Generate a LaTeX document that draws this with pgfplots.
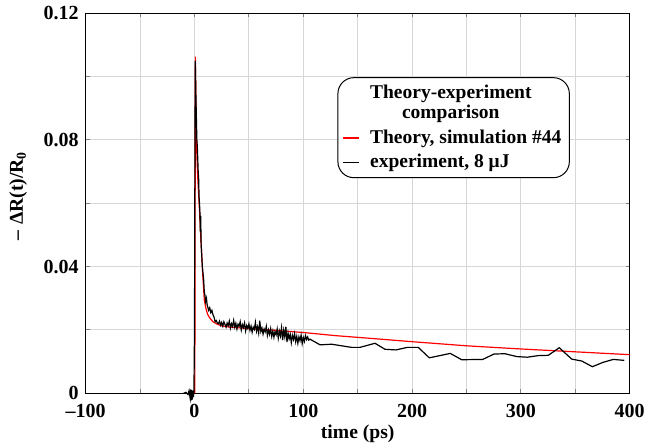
\documentclass[border=0pt]{standalone}
\usepackage{fontspec}
\setmainfont{Liberation Serif}
\usepackage{pgfplots}
\pgfplotsset{compat=1.18}
\definecolor{gridgray}{RGB}{215,215,215}

\begin{document}
\begin{tikzpicture}
\begin{axis}[
  scale only axis,
  width=272pt, height=190pt,
  xmin=-100, xmax=400,
  ymin=0, ymax=0.12,
  clip=false,
  xtick={-100,0,100,200,300,400},
  xticklabels={\textendash100,0,100,200,300,400},
  minor xtick={-50,50,150,250,350},
  ytick={0,0.04,0.08,0.12},
  yticklabels={0,0.04,0.08,0.12},
  minor ytick={0.02,0.06,0.1},
  grid=both,
  major grid style={gridgray, line width=0.5pt},
  minor grid style={gridgray, line width=0.5pt},
  tick style={gray, line width=0.5pt},
  major tick length=2pt, minor tick length=2pt,
  tick align=inside,
  axis line style={black, line width=0.8pt},
  ticklabel style={font=\fontsize{10}{12}\selectfont\bfseries},
  xticklabel style={yshift=-2pt},
  xlabel={time (ps)},
  ylabel={\textendash\;ΔR(t)/R\textsubscript{0}},
  label style={font=\fontsize{9.8}{11}\selectfont\bfseries},
  xlabel style={at={(axis description cs:0.5,0)}, anchor=center, yshift=-20pt},
  ylabel style={at={(axis description cs:-0.124,0.52)}, anchor=center},
  legend style={at={(0.89,0.832)}, anchor=north east, draw=black,
    rounded corners=8pt, line width=0.5pt,
    font=\fontsize{9.75}{10}\selectfont\bfseries,
    inner xsep=2pt, inner ysep=1.5pt, row sep=0pt,
    /tikz/every odd column/.append style={column sep=3.5pt}},
  legend cell align=left,
  legend image code/.code={\draw[#1, line width=0.6pt] (0pt,0pt) -- (8pt,0pt);},
]

\addlegendimage{empty legend}
\addlegendentry{\begin{tabular}[b]{@{}c@{}}Theory-experiment\\comparison\end{tabular}}

\addplot[red, line width=0.6pt] coordinates {
  (0.3,0) (0.8,0.1063) (1.7,0.080) (3,0.068) (4.4,0.059) (6,0.048)
  (7.5,0.038) (9,0.0295) (10.5,0.0268) (12,0.0250) (14,0.0238)
  (17,0.0226) (21,0.0218) (25,0.0213) (30,0.0210) (40,0.0207)
  (55,0.0203) (70,0.0200) (100,0.0192) (130,0.0182) (160,0.0174)
  (200,0.0163) (250,0.0150) (300,0.0140) (350,0.0131) (400,0.0122)
};
\addlegendentry{Theory, simulation \#44}

\addplot[black, line width=0.6pt] coordinates {
  (-10,0) (-8,0.0003) (-6,-0.0004) (-5,0.0008) (-4,-0.0015) (-3.5,0.0012)
  (-3,-0.0022) (-2.5,0.0010) (-2,-0.0020) (-1.5,0.0008) (-1,-0.0012)
  (-0.5,0.0005) (0,0.02) (0.4,0.075) (0.7,0.105) (1.0,0.100) (1.4,0.092)
  (1.8,0.086) (2.2,0.080) (2.6,0.078) (3.0,0.074) (3.4,0.070) (3.8,0.068)
  (4.2,0.062) (4.6,0.060) (5.0,0.057) (5.4,0.051) (5.7,0.056) (6.1,0.047)
  (6.6,0.044) (7.2,0.040) (7.8,0.038) (8.4,0.036) (9,0.032) (9.6,0.031)
  (10.2,0.029) (11,0.030) (11.6,0.028)
  (12,0.0275) (13,0.0262) (14,0.0270) (15,0.0255) (16,0.0262) (17,0.0248)
  (18,0.0240) (19,0.0226) (20,0.0230) (21,0.0222) (22,0.0220) (23,0.0228)
  (24,0.0215) (25,0.0224) (26,0.0212) (27,0.0226) (28,0.0218) (29,0.0209)
  (30,0.0222) (31,0.0214) (32,0.0228) (33,0.0206) (34,0.0220) (35,0.0211)
  (36,0.0230) (37,0.0209) (38,0.0221) (39,0.0203) (40,0.0218) (41,0.0212)
  (42,0.0226) (43,0.0200) (44,0.0217) (45,0.0208) (46,0.0222) (47,0.0197)
  (48,0.0214) (49,0.0205) (50,0.0219) (51,0.0199) (52,0.0212) (53,0.0193)
  (54,0.0209) (55,0.0202) (56,0.0224) (57,0.0196) (58,0.0210) (59,0.0190)
  (60,0.0229) (61,0.0195) (62,0.0206) (63,0.0187) (64,0.0203) (65,0.0194)
  (66,0.0211) (67,0.0183) (68,0.0200) (69,0.0186) (70,0.0204) (71,0.0180)
  (72,0.0197) (73,0.0177) (74,0.0195) (75,0.0185) (76,0.0203) (77,0.0174)
  (78,0.0196) (79,0.0181) (80,0.0207) (81,0.0168) (82,0.0199) (83,0.0178)
  (84,0.0210) (85,0.0162) (86,0.0190) (87,0.0172) (88,0.0186) (89,0.0160)
  (90,0.0183) (91,0.0170) (92,0.0188) (93,0.0163) (94,0.0180) (95,0.0158)
  (96,0.0178) (97,0.0166) (98,0.0184) (99,0.0157) (100,0.0176) (101,0.0164)
  (102,0.0182) (103,0.0170) (104,0.0178) (105,0.0168) (106.2,0.0171)
  (115.4,0.0153) (126.1,0.0155) (144.5,0.0145) (152,0.0145) (165.9,0.0158)
  (175.1,0.0139) (185.2,0.0137) (195.6,0.0145) (205.7,0.0145) (215.8,0.0112)
  (235.1,0.0126) (245.6,0.0106) (264.9,0.0107) (275.3,0.0124) (285.4,0.0125)
  (296.1,0.0116) (305.9,0.0114) (316,0.0119) (325.2,0.0120) (335.3,0.0144)
  (346.7,0.0108) (355.9,0.0102) (365.7,0.0084) (375.7,0.0098) (384.9,0.0107)
  (395,0.0104)
};
\addlegendentry{experiment, 8 μJ}

\end{axis}
\pgfresetboundingbox
\path (-42.85pt,-26.85pt) rectangle (282.15pt,196.65pt);
\end{tikzpicture}
\end{document}
